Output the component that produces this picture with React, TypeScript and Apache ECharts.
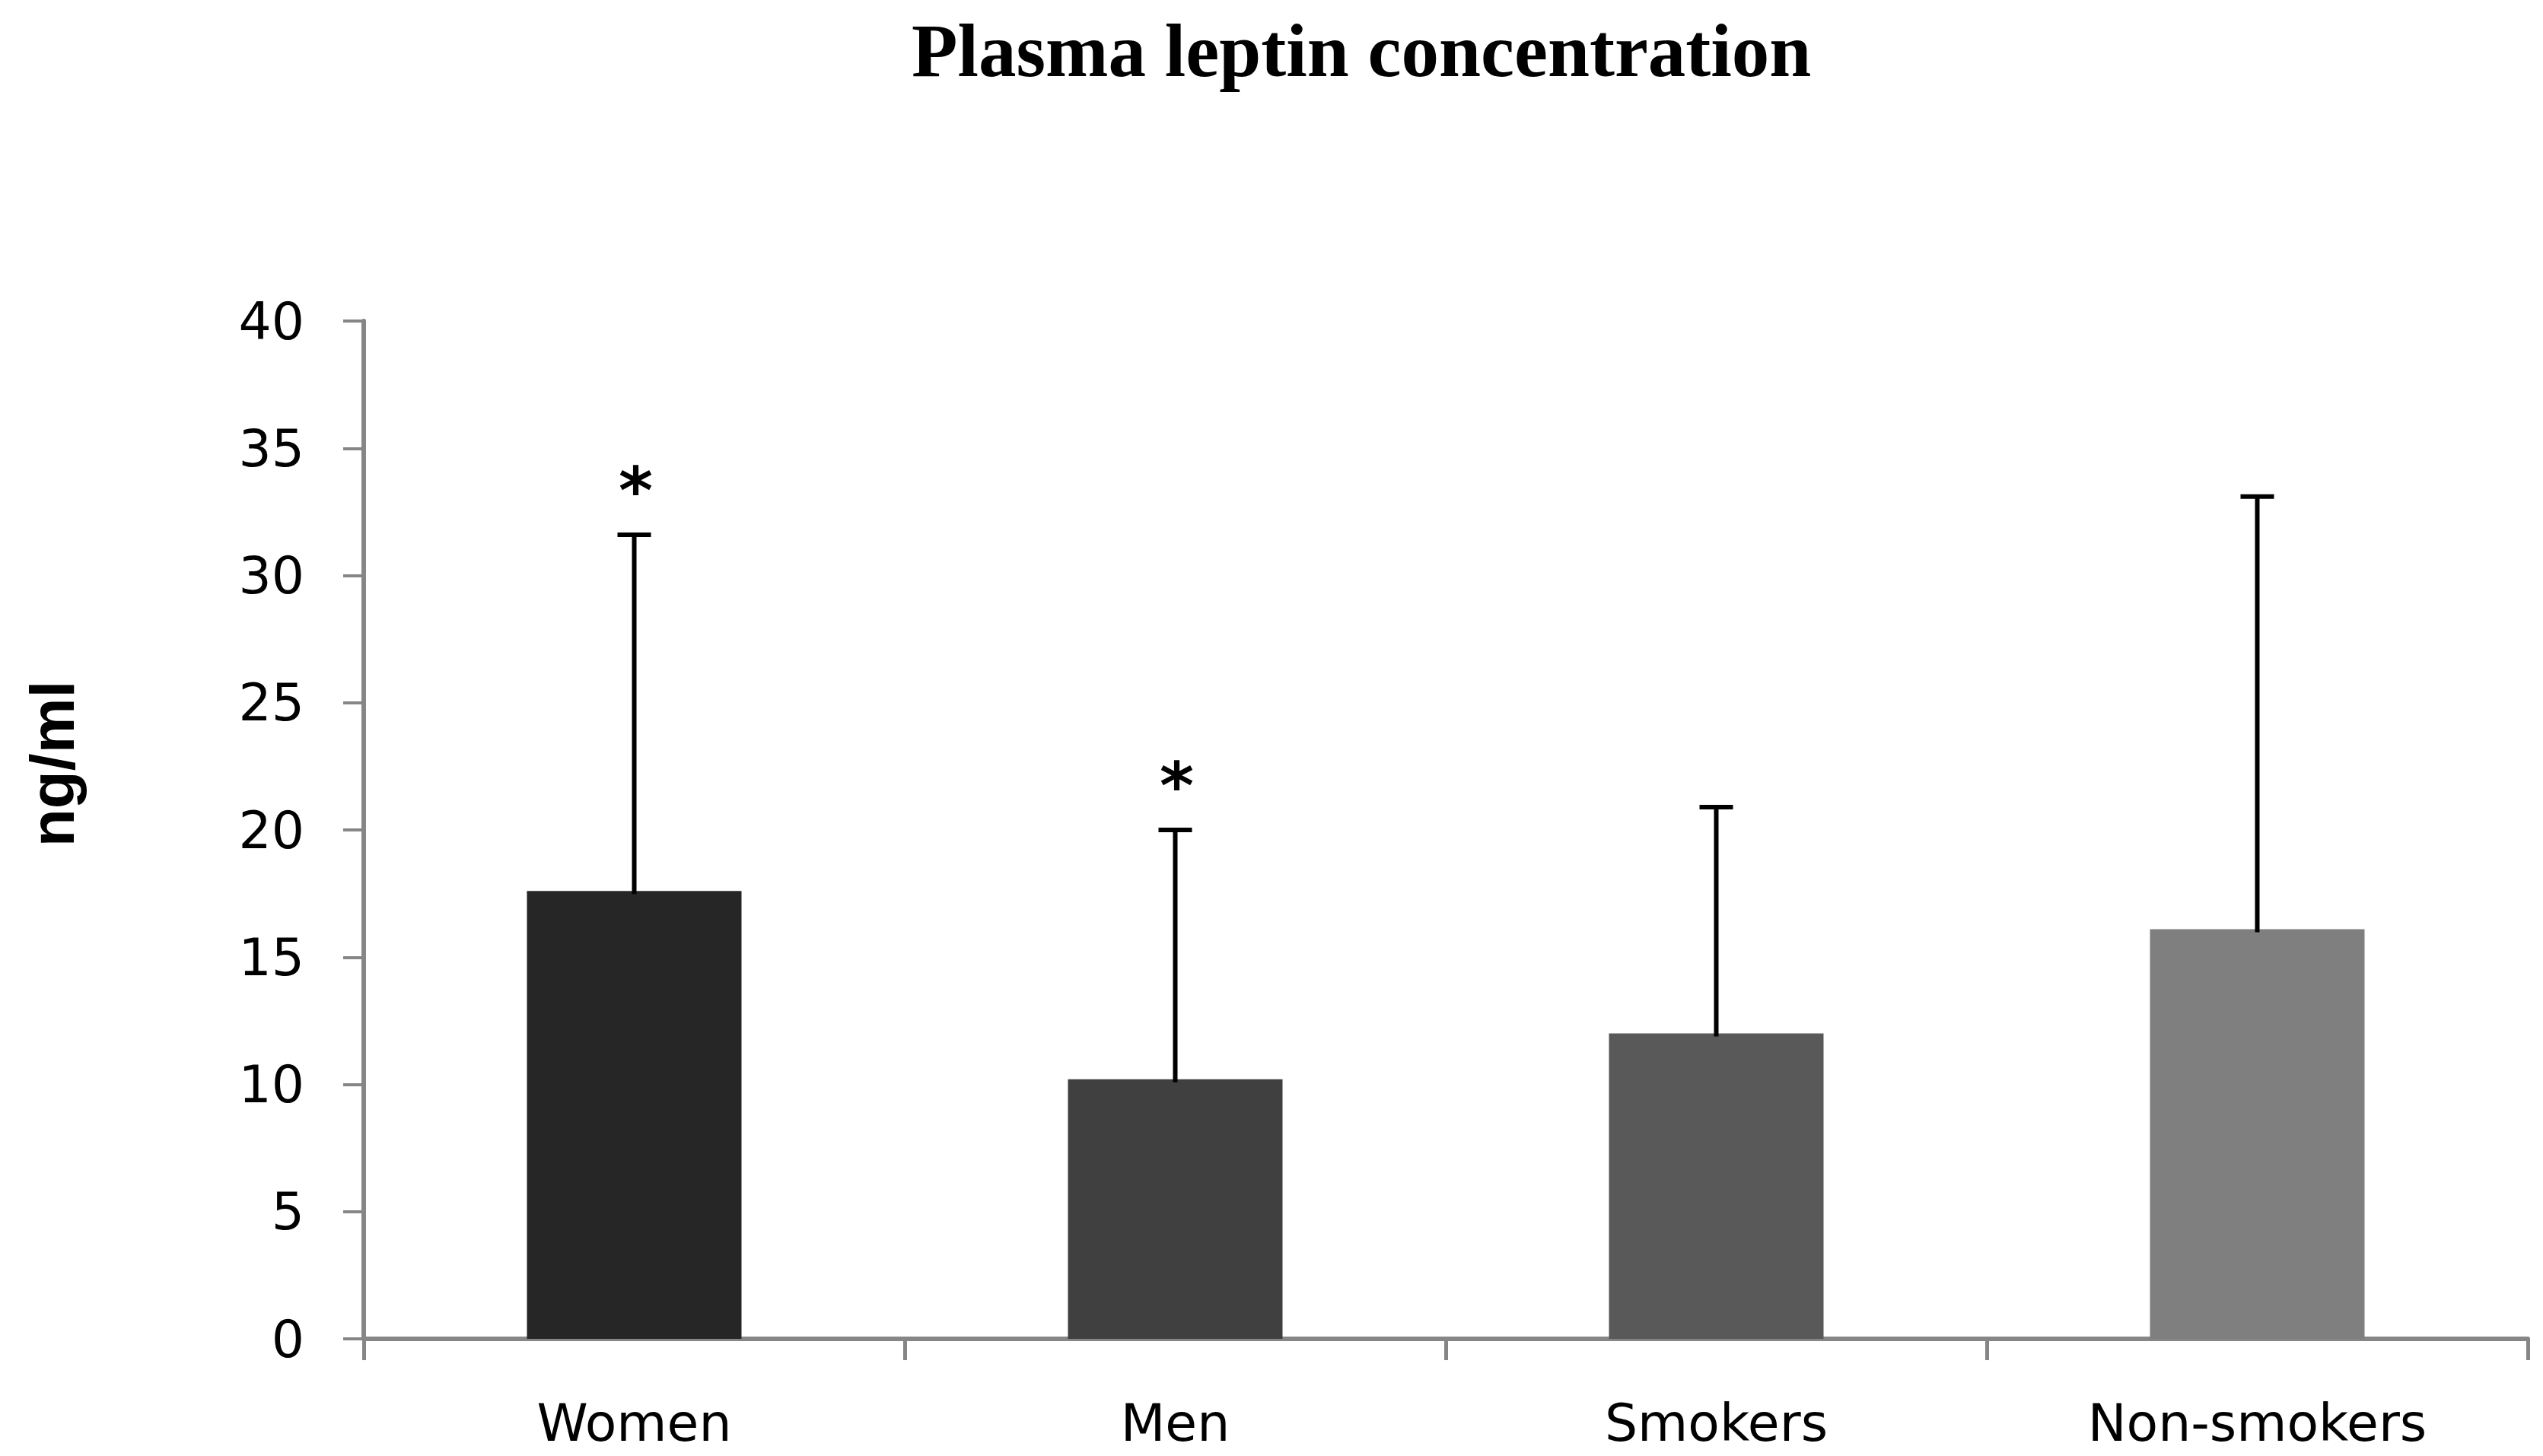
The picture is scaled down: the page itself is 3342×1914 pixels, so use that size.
import React, { useEffect, useRef } from "react";
import * as echarts from "echarts";

const categories = ["Women", "Men", "Smokers", "Non-smokers"];
const means = [17.6, 10.2, 12.0, 16.1];
const sds = [14.0, 9.8, 8.9, 17.0];
const barColors = ["#262626", "#404040", "#595959", "#7f7f7f"];
const significance = ["*", "*", "", ""];
const yMin = 0;
const yMax = 40;
const yInterval = 5;
const titleText = "Plasma leptin concentration";
const yAxisTitle = "ng/ml";

export default function App() {
  const ref = useRef<HTMLDivElement>(null);
  useEffect(() => {
    if (!ref.current) return;
    const chart = echarts.init(ref.current, undefined, { renderer: "svg" });
    const axisColor = "#868686";
    chart.setOption({
      animation: false,
      backgroundColor: "#ffffff",
      title: {
        text: titleText,
        left: 1193,
        top: 12,
        textStyle: {
          fontFamily: "Liberation Serif",
          fontWeight: "bold",
          fontSize: 99,
          color: "#000000",
        },
      },
      grid: { left: 478, right: 20, top: 422, bottom: 154, containLabel: false },
      xAxis: {
        type: "category",
        data: categories,
        axisLine: { show: true, lineStyle: { color: axisColor, width: 6 } },
        axisTick: { show: true, length: 28, lineStyle: { color: axisColor, width: 5 } },
        axisLabel: {
          fontFamily: "DejaVu Sans",
          fontSize: 68,
          color: "#000000",
          margin: 76,
        },
        splitLine: { show: false },
      },
      yAxis: {
        type: "value",
        min: yMin,
        max: yMax,
        interval: yInterval,
        axisLine: { show: true, lineStyle: { color: axisColor, width: 6 } },
        axisTick: { show: true, length: 27, lineStyle: { color: axisColor, width: 4 } },
        axisLabel: {
          fontFamily: "DejaVu Sans",
          fontSize: 68,
          color: "#000000",
          margin: 78,
        },
        splitLine: { show: false },
      },
      graphic: [
        {
          type: "text",
          x: 68,
          y: 1004,
          rotation: Math.PI / 2,
          style: {
            text: yAxisTitle,
            fontFamily: "Liberation Sans",
            fontWeight: "bold",
            fontSize: 82,
            fill: "#000000",
            align: "center",
            verticalAlign: "middle",
          },
        },
      ],
      series: [
        {
          type: "bar",
          barWidth: 282,
          z: 2,
          data: means.map((v, i) => ({ value: v, itemStyle: { color: barColors[i] } })),
        },
        {
          type: "custom",
          z: 3,
          data: means.map((m, i) => [i, m, m + sds[i]]),
          encode: { x: 0, y: [1, 2] },
          renderItem: (params: any, api: any) => {
            const i = params.dataIndex;
            const base = api.coord([api.value(0), api.value(1)]);
            const top = api.coord([api.value(0), api.value(2)]);
            const hw = 22;
            const children: any[] = [
              {
                type: "line",
                shape: { x1: base[0], y1: base[1] + 4, x2: base[0], y2: top[1] },
                style: { stroke: "#000000", lineWidth: 6 },
              },
              {
                type: "line",
                shape: { x1: base[0] - hw, y1: top[1], x2: base[0] + hw, y2: top[1] },
                style: { stroke: "#000000", lineWidth: 6 },
              },
            ];
            if (significance[i]) {
              children.push({
                type: "text",
                x: top[0] + 2,
                y: top[1] - 58,
                style: {
                  text: significance[i],
                  fontFamily: "DejaVu Sans",
                  fontWeight: "bold",
                  fontSize: 86,
                  fill: "#000000",
                  align: "center",
                  verticalAlign: "middle",
                },
              });
            }
            return { type: "group", children };
          },
        },
      ],
    });
    return () => chart.dispose();
  }, []);
  return (
    <div
      ref={ref}
      style={{ position: "absolute", left: 0, top: 0, width: 3342, height: 1914 }}
    />
  );
}
